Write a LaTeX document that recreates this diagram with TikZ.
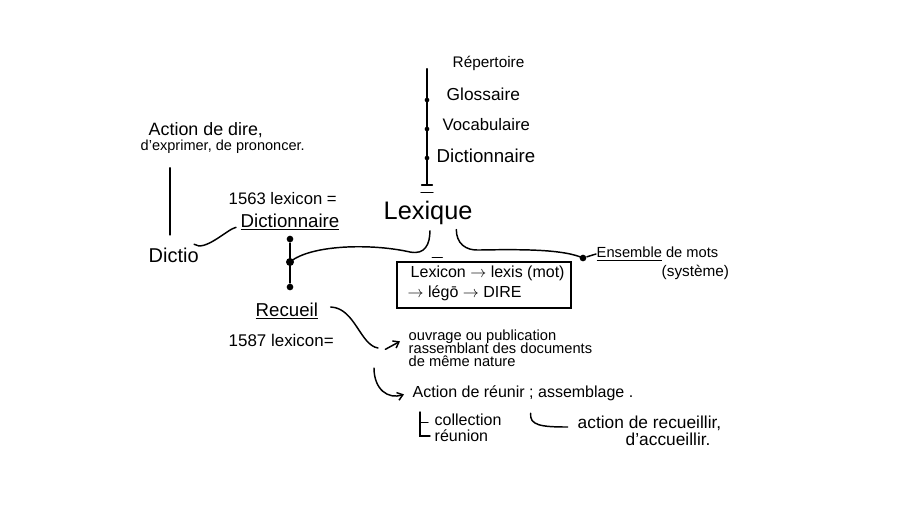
\documentclass[tikz,border=0pt]{standalone}
\usepackage{fontspec}
\setmainfont{Liberation Sans}
\usetikzlibrary{arrows.meta}
\newcommand\hfs[1]{\fontsize{#1}{#1}\selectfont}
\begin{document}
\begin{tikzpicture}[x=0.75pt,y=-0.75pt,line width=1.1pt,line cap=round,
  txt/.style={anchor=west,inner sep=0pt,align=left},
  bigdot/.style={circle,fill=black,inner sep=0pt,minimum size=6pt},
  smalldot/.style={circle,fill=black,inner sep=0pt,minimum size=3.5pt},
  pt/.style={inner sep=0pt,minimum size=0pt},
  barb/.style={-{Straight Barb[length=4pt,width=6pt]}}]
\useasboundingbox (0,0) rectangle (910,512);
% chain of synonyms
\node[txt,font=\hfs{11.5}] (rep) at (452,63) {Répertoire};
\node[txt,font=\hfs{13}] (glo) at (446,94) {Glossaire};
\node[txt,font=\hfs{12.5}] (voc) at (442,125) {Vocabulaire};
\node[txt,font=\hfs{14}] (dic) at (436,156) {Dictionnaire};
\node[pt] (c0) at (427,68) {};
\node[smalldot] (c1) at (427,100) {};
\node[smalldot] (c2) at (427,129) {};
\node[smalldot] (c3) at (427,158) {};
\node[pt] (c4) at (427,185) {};
\draw (c0) -- (c4);
\draw ([xshift=-4pt]c4.center) -- ([xshift=4pt]c4.center);
\draw ([xshift=-4.5pt,yshift=-5.5pt]c4.center) -- ([xshift=4.5pt,yshift=-5.5pt]c4.center);
% Lexique
\node[txt,font=\hfs{19}] (lex) at (383,213) {Lexique};
% left branch
\node[bigdot] (dm) at (290,262) {};
\node[smalldot,minimum size=5pt] (dt) at (290,239) {};
\node[smalldot,minimum size=5pt] (db) at (290,287) {};
\draw (dt) -- (db);
\draw ([xshift=35.2pt,yshift=-4pt]lex.south west) .. controls +(0,-10pt) and (425,255) .. (410,252)
      .. controls (370,243) and (310,245) .. (dm.center);
% right branch
\node[bigdot,minimum size=5pt] (ed) at (583,258) {};
\draw ([xshift=55pt,yshift=-3pt]lex.south west) .. controls +(0,-10pt) and (465,251) .. (480,250)
      .. controls (530,249) and (565,250) .. (ed.center);
% box
\node[draw,inner sep=0pt,minimum width=130.5pt,minimum height=34.5pt] (box) at (484,285) {};
\draw ([xshift=27pt,yshift=3pt]box.north west) -- ([xshift=34.5pt,yshift=3pt]box.north west);
\node[txt,font=\hfs{12}] (b1) at (410,273) {Lexicon $\rightarrow$ lexis (mot)};
\node[txt,font=\hfs{12}] (b2) at (407,293) {$\rightarrow$ légō $\rightarrow$ DIRE};
% Ensemble de mots
\node[txt,font=\hfs{11}] (ens) at (596,254) {\underline{Ensemble} de mots};
\node[txt,font=\hfs{11.5}] (sys) at (661,272) {(système)};
\draw (ed) -- (ens.west);
% 1563 Dictionnaire
\node[txt,font=\hfs{12.5}] (l1563) at (228,199) {1563 lexicon =};
\node[txt,font=\hfs{14}] (dicl) at (240,222) {\underline{Dictionnaire}};
% Dictio
\node[txt,font=\hfs{15}] (dictio) at (148,255) {Dictio};
\node[txt,font=\hfs{13.4}] (act1) at (148,130) {Action de dire,};
\node[txt,font=\hfs{10.9}] (act2) at (140,147) {d'exprimer, de prononcer.};
\draw ([xshift=22.5pt,yshift=-10pt]act2.south west) -- ([xshift=16.5pt,yshift=9pt]dictio.north west);
\draw ([xshift=-4pt,yshift=2pt]dictio.north east) .. controls +(8pt,-6pt) and +(-6pt,-1pt) .. ([xshift=-3pt,yshift=-4pt]dicl.west);
% Recueil
\node[txt,font=\hfs{14}] (rec) at (255,311) {\underline{Recueil}};
\node[txt,font=\hfs{12.7}] (l1587) at (228,340) {1587 lexicon=};
\node[pt] (sEnd) at (378,348) {};
\draw ([xshift=9pt,yshift=3pt]rec.east) .. controls (355,308) and (360,345) .. (sEnd.center);
\node[txt,font=\hfs{11}] (ouv) at (408,348) {ouvrage ou publication\\[-1.2pt]rassemblant des documents\\[-1.2pt]de même nature};
\draw[barb] ([xshift=-17pt,yshift=-1pt]ouv.west) -- ([xshift=-6pt,yshift=5pt]ouv.west);
\node[txt,font=\hfs{12}] (act3) at (412,393) {Action de réunir ; assemblage .};
\draw[barb] ([xshift=-3pt,yshift=-15pt]sEnd.center) .. controls +(0,-16pt) and +(-12pt,-4pt) .. ([xshift=-6pt,yshift=-1pt]act3.west);
% collection / reunion
\node[txt,font=\hfs{12}] (col) at (434,420) {collection};
\node[txt,font=\hfs{12}] (reu) at (434,436) {réunion};
\draw ([xshift=-10.5pt,yshift=6pt]col.west) -- ([xshift=-10.5pt]reu.west) -- ([xshift=-3pt]reu.west);
\draw ([xshift=-10.5pt,yshift=-2pt]col.west) -- ([xshift=-4.5pt,yshift=-2pt]col.west);
% action de recueillir
\node[txt,font=\hfs{13}] (acr) at (577,423) {action de recueillir,};
\node[txt,font=\hfs{13}] (acc) at (625,439) {d'accueillir.};
\draw ([xshift=89pt,yshift=-9pt]act3.south west) .. controls +(-1pt,-9pt) and +(-20pt,0pt) .. ([xshift=-7pt,yshift=-3pt]acr.west);
\end{tikzpicture}
\end{document}
